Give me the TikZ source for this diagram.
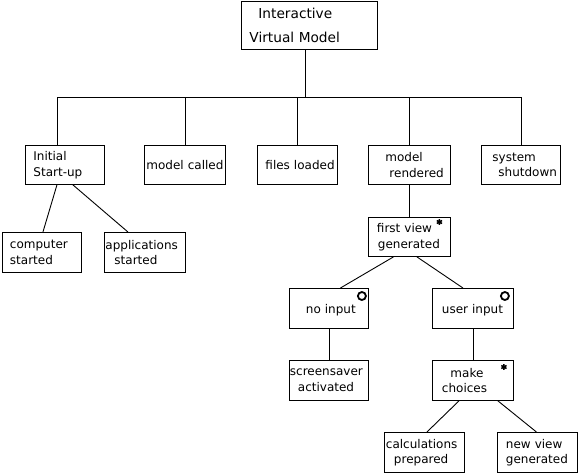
\documentclass[tikz,border=0pt]{standalone}
\usepackage{fontspec}
\setmainfont{DejaVu Sans}

\begin{document}
\begin{tikzpicture}[x=1pt,y=-1pt,line width=0.9pt,
                    font=\fontsize{12}{15.5}\selectfont,
                    box/.style 2 args={draw,anchor=north west,align=left,
                      text width=#1,inner xsep=#2,inner ysep=0pt,minimum height=40pt,
                      execute at begin node={\hyphenpenalty=10000\exhyphenpenalty=10000}},
                    ringmark/.style={line width=1.8pt},
                    starmark/.pic={\draw[line width=1.5pt] (0,-2.9) -- (0,2.9)
                      (-2.6,-1.5) -- (2.6,1.5) (-2.6,1.5) -- (2.6,-1.5);}]

  \useasboundingbox (0,0) rectangle (578,474);

  \node[box={120pt}{8pt},minimum height=48pt,font=\fontsize{13.7}{15.5}\selectfont] (root) at (241,1)
    {\hspace*{9pt}Interactive\\[8.5pt]Virtual~Model};
  \node[box={63pt}{8pt},minimum height=39pt] (init) at (25,145) {Initial\\Start-up};
  \node[box={77pt}{2pt},minimum height=39pt] (called) at (144,145) {model~called};
  \node[box={64pt}{8pt},minimum height=39pt] (loaded) at (257,145) {files~loaded};
  \node[box={48pt}{17pt},minimum height=39pt] (rendered) at (368,145) {model\\\hspace*{4pt}rendered};
  \node[box={57pt}{11pt},minimum height=39pt] (shutdown) at (481,145) {system\\\hspace*{6pt}shutdown};
  \node[box={64pt}{7.5pt}] (computer) at (2,232) {computer\\started};
  \node[box={79pt}{1pt}] (apps) at (104,232) {applications\\\hspace*{9pt}started};
  \node[box={65pt}{8.5pt},minimum height=39pt] (first) at (368,217) {first~view\\\hspace*{1pt}generated};
  \node[box={46pt}{16.5pt},text depth=0pt] (noinput) at (289,288) {no~input};
  \node[box={62pt}{9.5pt},text depth=0pt] (userinput) at (432,288) {user~input};
  \node[box={78pt}{0.5pt}] (saver) at (289,360) {screensaver\\\hspace*{8pt}activated};
  \node[box={62pt}{9.5pt}] (choices) at (432,360) {\hspace*{8.5pt}make\\choices};
  \node[box={77pt}{1.5pt}] (calc) at (384,432) {calculations\\\hspace*{8pt}prepared};
  \node[box={63pt}{8.5pt}] (newview) at (497,432) {new~view\\generated};

  % top level bus
  \coordinate (hub) at (305,97);
  \draw (root.south -| hub) -- (hub);
  \draw (hub) -| ([xshift=-7.5pt]init.north)
        (hub) -| (called.north)
        (hub) -| (loaded.north)
        (hub) -| (rendered.north)
        (hub) -| (shutdown.north);

  \path[every node/.style={}]
    ([xshift=-8pt]init.south) edge ([xshift=1pt]computer.north)
    ([xshift=8pt]init.south) edge ([xshift=-17pt]apps.north)
    (rendered) edge (first)
    ([xshift=-16pt]first.south) edge ([xshift=11.5pt]noinput.north)
    ([xshift=7.5pt]first.south) edge ([xshift=-10pt]userinput.north)
    (noinput) edge (saver)
    (userinput) edge (choices)
    ([xshift=-14pt]choices.south) edge ([xshift=2.5pt]calc.north)
    ([xshift=25pt]choices.south) edge ([xshift=-1pt]newview.north);

  % marks
  \pic at ([xshift=-11.5pt,yshift=-5pt]first.north east) {starmark};
  \pic at ([xshift=-10pt,yshift=-7pt]choices.north east) {starmark};
  \draw[ringmark] ([xshift=-7pt,yshift=-8pt]noinput.north east) circle (4pt);
  \draw[ringmark] ([xshift=-9pt,yshift=-8pt]userinput.north east) circle (4pt);
\end{tikzpicture}
\end{document}
